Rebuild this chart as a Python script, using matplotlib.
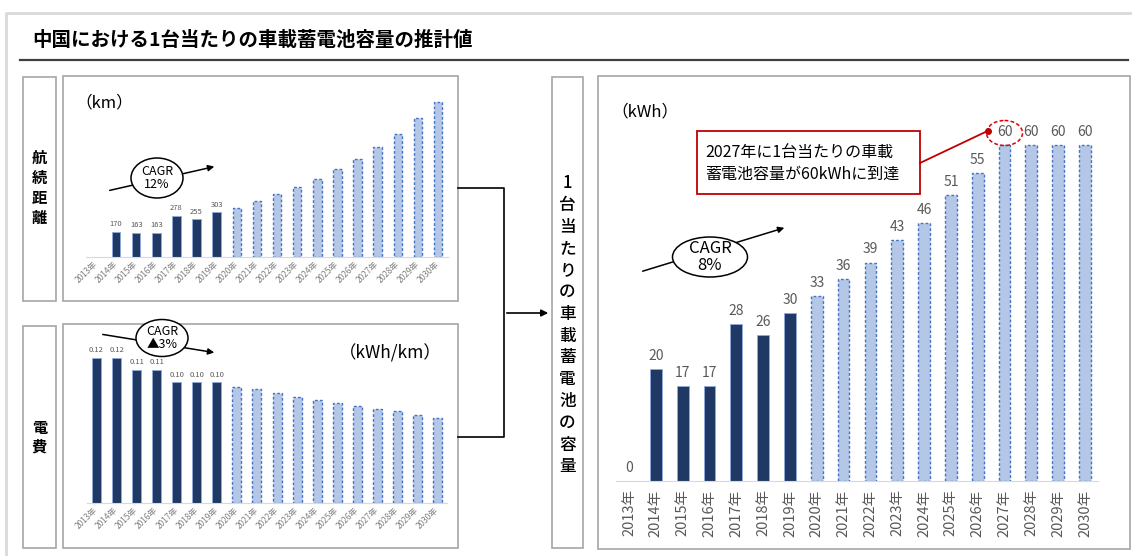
import numpy as np
import matplotlib
matplotlib.use("Agg")
import matplotlib.pyplot as plt
from matplotlib.patches import Rectangle, Ellipse

plt.rcParams['font.family'] = ['Noto Sans CJK JP', 'DejaVu Sans']

years = [f"{y}年" for y in range(2013, 2031)]
n_actual = 7  # 2013-2019 are actual, the rest are forecasts

range_actual = [np.nan, 170, 163, 163, 278, 255, 303]
range_forecast = [331, 378, 426, 473, 527, 595, 662, 743, 831, 939, 1047]

eff_actual = [0.12, 0.12, 0.11, 0.11, 0.10, 0.10, 0.10]
eff_forecast = [0.096, 0.094, 0.091, 0.088, 0.085, 0.083, 0.080, 0.078, 0.076, 0.073, 0.070]

cap_actual = [0, 20, 17, 17, 28, 26, 30]
cap_forecast = [33, 36, 39, 43, 46, 51, 55, 60, 60, 60, 60]

W, H = 1132, 556
fig = plt.figure(figsize=(W / 100, H / 100), dpi=100)

NAVY = '#1F3864'
LIGHT = '#B4C7E7'
DASH = '#4472C4'
BOX = '#A6A6A6'


def px_axes(x0, y0, x1, y1):
    return fig.add_axes([x0 / W, 1 - y1 / H, (x1 - x0) / W, (y1 - y0) / H])


def bar_panel(ax, actual, forecast, ymax, width, fmt, lab_size, lab_off,
              tick_size, tick_color, rot, label_forecast):
    x = np.arange(len(years))
    xa, xf = x[:n_actual], x[n_actual:]
    ax.bar(xa, actual, width=width, color=NAVY, edgecolor='#8FAADC', linewidth=0.6)
    ax.bar(xf, forecast, width=width, color=LIGHT, edgecolor=DASH,
           linewidth=1.0, linestyle=(0, (2, 1.5)))
    vals = list(actual) + (list(forecast) if label_forecast else [])
    for xi, v in zip(x, vals):
        if np.isnan(v):
            continue
        ax.annotate(fmt.format(v), (xi, v), xytext=(0, lab_off), textcoords='offset points',
                    ha='center', va='center', fontsize=lab_size, color='#595959')
    ax.set_xlim(-0.5, 17.5)
    ax.set_ylim(0, ymax)
    ax.set_xticks(x)
    if rot == 90:
        ax.set_xticklabels(years, rotation=90, fontsize=tick_size, color=tick_color)
        ax.tick_params(axis='x', length=0, pad=6)
    else:
        ax.set_xticklabels(years, rotation=rot, ha='right', va='center',
                           rotation_mode='anchor', fontsize=tick_size, color=tick_color)
        ax.tick_params(axis='x', length=0, pad=4)
    ax.set_yticks([])
    for s in ['top', 'left', 'right']:
        ax.spines[s].set_visible(False)
    ax.spines['bottom'].set_color('#D9D9D9')
    ax.patch.set_alpha(0)


ax_range = px_axes(85.95, 90, 448.05, 257)
bar_panel(ax_range, range_actual, range_forecast, 167 / 0.148, 0.42, "{:.0f}",
          5.5, 5.5, 6, '#7F7F7F', 45, False)

ax_eff = px_axes(86.5, 330, 447.5, 503)
bar_panel(ax_eff, eff_actual, eff_forecast, 173 / 1208, 0.45, "{:.2f}",
          5.5, 5.5, 6, '#7F7F7F', 45, False)

ax_cap = px_axes(615.6, 110, 1098.4, 481)
bar_panel(ax_cap, cap_actual, cap_forecast, 371 / 5.6, 0.44, "{:.0f}",
          10, 9.5, 10.5, '#595959', 90, True)

# overlay in pixel coordinates for frames, connectors and callouts
ov = fig.add_axes([0, 0, 1, 1])
ov.set_xlim(0, W)
ov.set_ylim(H, 0)
ov.axis('off')
ov.patch.set_alpha(0)

ov.plot([6, 6, W], [H, 13, 13], color='#D9D9D9', lw=2)
ov.plot([20, 1128], [60, 60], color='#404040', lw=1.6)
ov.text(32, 40, "中国における1台当たりの車載蓄電池容量の推計値", fontsize=14,
        fontweight='bold', va='center', ha='left')

for (x0, y0, x1, y1) in [(23, 77, 56, 301), (23, 326, 56, 548), (63, 76, 458, 301),
                         (63, 324, 458, 548), (552, 77, 583, 548), (598, 76, 1130, 549)]:
    ov.add_patch(Rectangle((x0, y0), x1 - x0, y1 - y0, fill=False, ec=BOX, lw=1.2))


def vtext(x, y0, chars, step, size, weight='bold'):
    for i, c in enumerate(chars):
        ov.text(x, y0 + i * step, c, ha='center', va='center', fontsize=size,
                fontweight=weight)


vtext(39.5, 158, "航続距離", 20, 11)
vtext(39.5, 428, "電費", 19, 11)
vtext(567.5, 183, "1台当たりの車載蓄電池の容量", 21.8, 12, 'medium')

# connectors into the capacity box
ov.plot([458, 504, 504, 458], [188, 188, 437, 437], color='black', lw=1.2)
ov.annotate('', xy=(551, 313), xytext=(504, 313),
            arrowprops=dict(arrowstyle='-|>', color='black', lw=1.2, mutation_scale=10))

# unit labels
ov.text(75, 103, "（km）", fontsize=12, va='center', ha='left')
ov.text(442, 353, "（kWh/km）", fontsize=12.5, va='center', ha='right')
ov.text(611, 112, "（kWh）", fontsize=12, va='center', ha='left')


def cagr(start, end, center, w, h, label, size):
    ov.annotate('', xy=end, xytext=start, zorder=2,
                arrowprops=dict(arrowstyle='-|>', color='black', lw=1.1, mutation_scale=9))
    ov.add_patch(Ellipse(center, w, h, fc='white', ec='black', lw=1.1, zorder=4))
    ov.text(center[0], center[1], label, ha='center', va='center', fontsize=size,
            linespacing=1.05, zorder=5)


cagr((107, 191), (217, 166), (157, 178), 52, 40, "CAGR\n12%", 9)
cagr((100, 334), (217, 353), (162, 338), 52, 37, "CAGR\n▲3%", 9)
cagr((640, 272), (787, 227), (710, 257), 75, 40, "CAGR\n8%", 12)

# callout on the year capacity first reaches 60 kWh
i60 = n_actual + cap_forecast.index(60)
cx, cy = ax_cap.transData.transform((i60, cap_forecast[i60 - n_actual]))
cy = H - cy - 12
ov.add_patch(Ellipse((cx, cy), 36, 25, fill=False, ec='#E00000', lw=1.1, ls=(0, (2.5, 1.5))))
ov.add_patch(Rectangle((697, 131), 223, 63, fc='white', ec='#C00000', lw=1.3))
ov.text(705, 152, "2027年に1台当たりの車載", fontsize=11.5, va='center', ha='left')
ov.text(705, 174, "蓄電池容量が60kWhに到達", fontsize=11.5, va='center', ha='left')
ov.plot([920, cx - 17], [163, cy - 2], color='#C00000', lw=1.3)
ov.plot([cx - 17], [cy - 2], 'o', color='#C00000', ms=4)

fig.savefig("out.png", dpi=100)
